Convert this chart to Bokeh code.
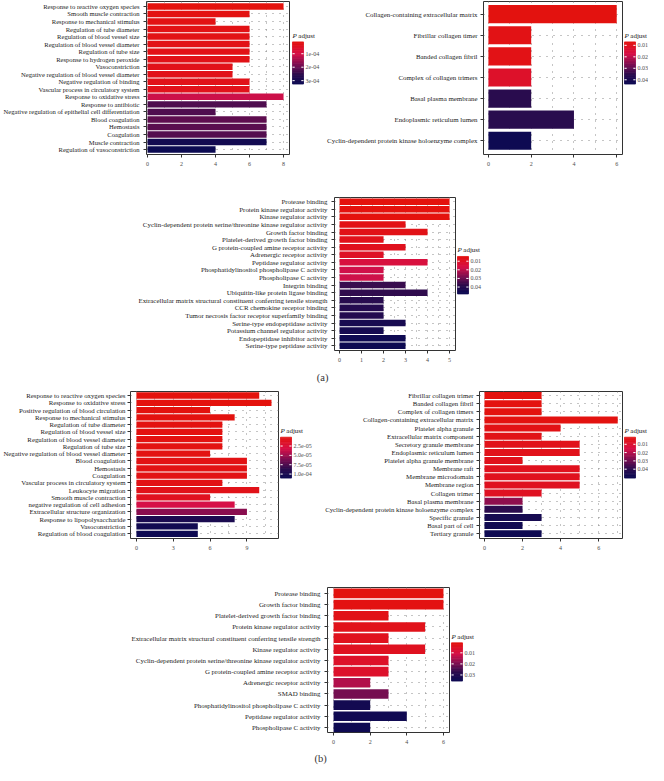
from bokeh.plotting import figure
from bokeh.models import Range1d, FixedTicker, LinearColorMapper, ColumnDataSource
from bokeh.layouts import column, row
from bokeh.transform import transform
from bokeh.core.properties import value
from bokeh.embed import file_html
from bokeh.resources import INLINE

FONT = "Liberation Serif"

# ---------------- data ----------------
# (a) Biological process
a_bp_terms = ["Response to reactive oxygen species", "Smooth muscle contraction", "Response to mechanical stimulus",
              "Regulation of tube diameter", "Regulation of blood vessel size", "Regulation of blood vessel diameter",
              "Regulation of tube size", "Response to hydrogen peroxide", "Vasoconstriction",
              "Negative regulation of blood vessel diameter", "Negative regulation of binding",
              "Vascular process in circulatory system", "Response to oxidative stress", "Response to antibiotic",
              "Negative regulation of epithelial cell differentiation", "Blood coagulation", "Hemostasis",
              "Coagulation", "Muscle contraction", "Regulation of vasoconstriction"]
a_bp_counts = [8, 6, 4, 6, 6, 6, 6, 6, 5, 5, 6, 6, 8, 7, 4, 7, 7, 7, 7, 4]
a_bp_padj = [1.4e-5, 2.0e-5, 2.4e-5, 2.6e-5, 2.6e-5, 2.8e-5, 2.8e-5, 3.0e-5, 3.2e-5, 3.2e-5, 3.4e-5, 3.6e-5,
             1.15e-4, 2.25e-4, 2.25e-4, 2.12e-4, 2.15e-4, 2.2e-4, 3.1e-4, 3.25e-4]
a_bp_ticks = [0, 2, 4, 6, 8]
a_bp_cb_range = (1.2e-5, 3.25e-4)
a_bp_cb_ticks = [1e-4, 2e-4, 3e-4]
a_bp_cb_labels = ["1e-04", "2e-04", "3e-04"]

# (a) Cellular component
a_cc_terms = ["Collagen-containing extracellular matrix", "Fibrillar collagen timer", "Banded collagen fibril",
              "Complex of collagen trimers", "Basal plasma membrane", "Endoplasmic reticulum lumen",
              "Cyclin-dependent protein kinase holoenzyme complex"]
a_cc_counts = [6, 2, 2, 2, 2, 4, 2]
a_cc_padj = [0.0077, 0.0088, 0.009, 0.0125, 0.0364, 0.0365, 0.043]
a_cc_ticks = [0, 2, 4, 6]
a_cc_cb_range = (0.007, 0.0437)
a_cc_cb_ticks = [0.01, 0.02, 0.03, 0.04]
a_cc_cb_labels = ["0.01", "0.02", "0.03", "0.04"]

# (a) Molecular function
a_mf_terms = ["Protease binding", "Protein kinase regulator activity", "Kinase regulator activity",
              "Cyclin-dependent protein serine/threonine kinase regulator activity", "Growth factor binding",
              "Platelet-derived growth factor binding", "G protein-coupled amine receptor activity",
              "Adrenergic receptor activity", "Peptidase regulator activity",
              "Phosphatidylinositol phospholipase C activity", "Phospholipase C activity", "Integrin binding",
              "Ubiquitin-like protein ligase binding",
              "Extracellular matrix structural constituent conferring tensile strength",
              "CCR chemokine receptor binding", "Tumor necrosis factor receptor superfamily binding",
              "Serine-type endopeptidase activity", "Potassium channel regulator activity",
              "Endopeptidase inhibitor activity", "Serine-type peptidase activity"]
a_mf_counts = [5, 5, 5, 3, 4, 2, 3, 2, 4, 2, 2, 3, 4, 2, 2, 2, 3, 2, 3, 3]
a_mf_padj = [0.0048, 0.005, 0.005, 0.0065, 0.007, 0.0078, 0.0085, 0.01, 0.0155, 0.0184, 0.0185, 0.037,
             0.038, 0.04, 0.041, 0.0415, 0.0445, 0.045, 0.047, 0.0475]
a_mf_ticks = [0, 1, 2, 3, 4, 5]
a_mf_cb_range = (0.0045, 0.048)
a_mf_cb_ticks = [0.01, 0.02, 0.03, 0.04]
a_mf_cb_labels = ["0.01", "0.02", "0.03", "0.04"]

# (b) Biological process
b_bp_terms = ["Response to reactive oxygen species", "Response to oxidative stress",
              "Positive regulation of blood circulation", "Response to mechanical stimulus",
              "Regulation of tube diameter", "Regulation of blood vessel size", "Regulation of blood vessel diameter",
              "Regulation of tube size", "Negative regulation of blood vessel diameter", "Blood coagulation",
              "Hemostasis", "Coagulation", "Vascular process in circulatory system", "Leukocyte migration",
              "Smooth muscle contraction", "negative regulation of cell adhesion",
              "Extracellular structure organization", "Response to lipopolysaccharide", "Vasoconstriction",
              "Regulation of blood coagulation"]
b_bp_counts = [10, 11, 6, 8, 7, 7, 7, 7, 6, 9, 9, 9, 7, 10, 6, 8, 9, 8, 5, 5]
b_bp_padj = [2e-6, 2.2e-6, 3e-6, 3.5e-6, 4e-6, 4e-6, 4.5e-6, 4.5e-6, 5e-6, 6e-6, 6e-6, 6.5e-6, 7e-6, 9e-6,
             1.2e-5, 3.4e-5, 5.8e-5, 1.0e-4, 1.06e-4, 1.1e-4]
b_bp_ticks = [0, 3, 6, 9]
b_bp_cb_range = (1.5e-6, 1.107e-4)
b_bp_cb_ticks = [2.5e-5, 5e-5, 7.5e-5, 1e-4]
b_bp_cb_labels = ["2.5e-05", "5.0e-05", "7.5e-05", "1.0e-04"]

# (b) Cellular component
b_cc_terms = ["Fibrillar collagen trimer", "Banded collagen fibril", "Complex of collagen timers",
              "Collagen-containing extracellular matrix", "Platelet alpha granule", "Extracellular matrix component",
              "Secretory granule membrane", "Endoplasmic reticulum lumen", "Platelet alpha granule membrane",
              "Membrane raft", "Membrane microdomain", "Membrane region", "Collagen trimer",
              "Basal plasma membrane", "Cyclin-dependent protein kinase holoenzyme complex", "Specific granule",
              "Basal part of cell", "Tertiary granule"]
b_cc_counts = [3, 3, 3, 7, 4, 3, 5, 5, 2, 5, 5, 5, 3, 2, 2, 3, 2, 3]
b_cc_padj = [0.002, 0.002, 0.0022, 0.0025, 0.004, 0.0045, 0.005, 0.005, 0.0055, 0.006, 0.006, 0.0065, 0.007,
             0.026, 0.04, 0.047, 0.049, 0.05]
b_cc_ticks = [0, 2, 4, 6]
b_cc_cb_range = (0.0015, 0.0507)
b_cc_cb_ticks = [0.01, 0.02, 0.03, 0.04]
b_cc_cb_labels = ["0.01", "0.02", "0.03", "0.04"]

# (b) Molecular function
b_mf_terms = ["Protease binding", "Growth factor binding", "Platelet-derived growth factor binding",
              "Protein kinase regulator activity",
              "Extracellular matrix structural constituent conferring tensile strength", "Kinase regulator activity",
              "Cyclin-dependent protein serine/threonine kinase regulator activity",
              "G protein-coupled amine receptor activity", "Adrenergic receptor activity", "SMAD binding",
              "Phosphatidylinositol phospholipase C activity", "Peptidase regulator activity",
              "Phospholipase C activity"]
b_mf_counts = [6, 6, 3, 5, 3, 5, 3, 3, 2, 3, 2, 4, 2]
b_mf_padj = [0.0015, 0.002, 0.003, 0.0035, 0.004, 0.0045, 0.006, 0.0065, 0.0148, 0.0207, 0.0338, 0.0345, 0.035]
b_mf_ticks = [0, 2, 4, 6]
b_mf_cb_range = (0.001, 0.0355)
b_mf_cb_ticks = [0.01, 0.02, 0.03]
b_mf_cb_labels = ["0.01", "0.02", "0.03"]

# ---------------- styling ----------------
STOPS = [(0.0, (228, 18, 12)), (0.3, (214, 16, 72)), (0.55, (125, 14, 80)),
         (0.78, (45, 12, 78)), (1.0, (12, 10, 82))]


def build_palette(n=256):
    out = []
    for i in range(n):
        t = i / (n - 1)
        c = STOPS[-1][1]
        for (t0, c0), (t1, c1) in zip(STOPS, STOPS[1:]):
            if t <= t1:
                f = (t - t0) / (t1 - t0)
                c = tuple(round(a + (b - a) * f) for a, b in zip(c0, c1))
                break
        out.append("#%02x%02x%02x" % c)
    return out


PAL = build_palette()
GRID = "#8a8a8a"
BAR_W = 11
N_STEPS = 25


def main_fig(terms, counts, padj, mapper, xticks, xminor, xr, ypad, width, height, borders,
             label_size, standoff):
    n = len(terms)
    ys = list(range(n))
    src = ColumnDataSource(dict(y=ys, count=counts, padj=padj))
    bl, br, bt, bb = borders
    p = figure(width=width, height=height, x_range=Range1d(*xr),
               y_range=Range1d(n - 1 + ypad[1], -ypad[0]),
               toolbar_location=None, output_backend="svg", title=None,
               min_border_left=bl, min_border_right=br, min_border_top=bt, min_border_bottom=bb)
    p.hbar(y="y", left=0, right="count", height=0.86, source=src,
           fill_color=transform("padj", mapper), line_color=None)
    p.outline_line_color = "#333333"
    p.outline_line_width = 1
    p.xaxis.ticker = FixedTicker(ticks=xticks, minor_ticks=xminor)
    p.yaxis.ticker = FixedTicker(ticks=ys)
    p.yaxis.major_label_overrides = {i: t for i, t in enumerate(terms)}
    for g in (p.xgrid, p.ygrid):
        g.grid_line_color = GRID
        g.grid_line_dash = "1 6"
    p.xgrid.minor_grid_line_color = GRID
    p.xgrid.minor_grid_line_dash = "1 6"
    for ax in (p.xaxis, p.yaxis):
        ax.axis_line_color = None
        ax.major_tick_line_color = "#333333"
        ax.major_tick_out = 3
        ax.major_tick_in = 0
        ax.minor_tick_line_color = None
        ax.major_label_text_font = FONT
    p.xaxis.major_label_text_font_size = "6px"
    p.xaxis.major_label_text_color = "#4d4d4d"
    p.xaxis.major_label_standoff = 3
    p.yaxis.major_label_text_font_size = label_size
    p.yaxis.major_label_text_color = "#1a1a1a"
    p.yaxis.major_label_standoff = standoff
    return p


def legend_fig(mapper, cb_range, cb_ticks, cb_labels, width, height, bar_x0, bar_top, bar_bot):
    lo, hi = cb_range
    s = (hi - lo) / (bar_bot - bar_top)          # value per pixel
    lg = figure(width=width, height=height, x_range=Range1d(0, width),
                y_range=Range1d(hi + (height - bar_bot) * s, lo - bar_top * s),
                toolbar_location=None, output_backend="svg", title=None,
                x_axis_location=None, y_axis_location=None, min_border=0)
    lg.grid.visible = False
    lg.outline_line_color = None
    step = (hi - lo) / N_STEPS
    src = ColumnDataSource(dict(v=[lo + (i + 0.5) * step for i in range(N_STEPS)]))
    lg.hbar(y="v", left=bar_x0, right=bar_x0 + BAR_W, height=step, source=src,
            fill_color=transform("v", mapper), line_color=transform("v", mapper), line_width=0.8)
    # white tick marks on both sides of the bar
    k = len(cb_ticks)
    lg.segment(x0=[bar_x0] * k, x1=[bar_x0 + 2.2] * k, y0=cb_ticks, y1=cb_ticks,
               line_color="white", line_width=1)
    lg.segment(x0=[bar_x0 + BAR_W - 2.2] * k, x1=[bar_x0 + BAR_W] * k,
               y0=cb_ticks, y1=cb_ticks, line_color="white", line_width=1)
    lg.text(x=[bar_x0 + BAR_W + 2.0] * k, y=cb_ticks, text=cb_labels,
            text_align="left", text_baseline="middle", text_font=value(FONT),
            text_font_size="6px", text_color="#4d4d4d")
    ty = lo - 2.5 * s
    lg.text(x=[bar_x0], y=[ty], text=["P"], text_align="left", text_baseline="bottom",
            text_font=value(FONT), text_font_size="7px", text_font_style="italic", text_color="#1a1a1a")
    lg.text(x=[bar_x0 + 5.8], y=[ty], text=["adjust"], text_align="left", text_baseline="bottom",
            text_font=value(FONT), text_font_size="7px", text_color="#1a1a1a")
    return lg


def panel(terms, counts, padj, cb_range, cb_ticks, cb_labels, xticks, xminor, xr, ypad,
          main_w, height, borders, leg_w, bar_x0, bar_top, bar_bot, label_size="6.9px", standoff=4):
    mapper = LinearColorMapper(palette=PAL, low=cb_range[0], high=cb_range[1])
    m = main_fig(terms, counts, padj, mapper, xticks, xminor, xr, ypad, main_w, height, borders,
                 label_size, standoff)
    lg = legend_fig(mapper, cb_range, cb_ticks, cb_labels, leg_w, height, bar_x0, bar_top, bar_bot)
    return m, lg


def caption(text, h, xc):
    c = figure(width=648, height=h, x_range=Range1d(0, 1), y_range=Range1d(0, 1),
               toolbar_location=None, output_backend="svg", title=None,
               x_axis_location=None, y_axis_location=None, min_border=0)
    c.grid.visible = False
    c.outline_line_color = None
    c.text(x=[xc], y=[0.5], text=[text], text_align="center", text_baseline="middle",
           text_font=value(FONT), text_font_size="10.5px", text_color="#333333")
    return c


m1, l1 = panel(a_bp_terms, a_bp_counts, a_bp_padj, a_bp_cb_range, a_bp_cb_ticks, a_bp_cb_labels,
               a_bp_ticks, [1, 3, 5, 7], (-0.06, 8.35), (0.65, 0.65),
               291, 178, (145, 2, 1, 24), 33, 1, 47, 96, label_size="6.6px", standoff=4)
m2, l2 = panel(a_cc_terms, a_cc_counts, a_cc_padj, a_cc_cb_range, a_cc_cb_ticks, a_cc_cb_labels,
               a_cc_ticks, [1, 3, 5], (-0.23, 6.27), (0.6, 0.65),
               299, 178, (159, 1, 1, 24), 25, 1, 47, 96, label_size="6.9px", standoff=3)
m3, l3 = panel(a_mf_terms, a_mf_counts, a_mf_padj, a_mf_cb_range, a_mf_cb_ticks, a_mf_cb_labels,
               a_mf_ticks, [0.5, 1.5, 2.5, 3.5, 4.5], (-0.23, 5.27), (0.55, 0.62),
               456, 192, (334, 1, 19, 20), 36, 1, 74, 121, label_size="6.9px")
cap_a = caption("(a)", 14, 0.497)
m4, l4 = panel(b_bp_terms, b_bp_counts, b_bp_padj, b_bp_cb_range, b_bp_cb_ticks, b_bp_cb_labels,
               b_bp_ticks, [1.5, 4.5, 7.5, 10.5], (-0.48, 11.57), (0.55, 0.65),
               279, 180, (128, 1, 7, 26), 43, 1, 56, 106, label_size="6.8px", standoff=2)
m5, l5 = panel(b_cc_terms, b_cc_counts, b_cc_padj, b_cc_cb_range, b_cc_cb_ticks, b_cc_cb_labels,
               b_cc_ticks, [1, 3, 5, 7], (-0.26, 7.25), (0.5, 0.6),
               301, 180, (157, 1, 7, 26), 25, 1, 56, 106, label_size="6.8px", standoff=3)
m6, l6 = panel(b_mf_terms, b_mf_counts, b_mf_padj, b_mf_cb_range, b_mf_cb_ticks, b_mf_cb_labels,
               b_mf_ticks, [1, 3, 5], (-0.33, 6.33), (0.53, 0.45),
               450, 186, (327, 1, 23, 18), 42, 1, 71, 120, label_size="6.9px")
cap_b = caption("(b)", 15, 0.494)

layout = column(row(m1, l1, m2, l2), row(m3, l3), cap_a, row(m4, l4, m5, l5), row(m6, l6), cap_b)

open("out.html", "w").write(file_html(layout, INLINE))
